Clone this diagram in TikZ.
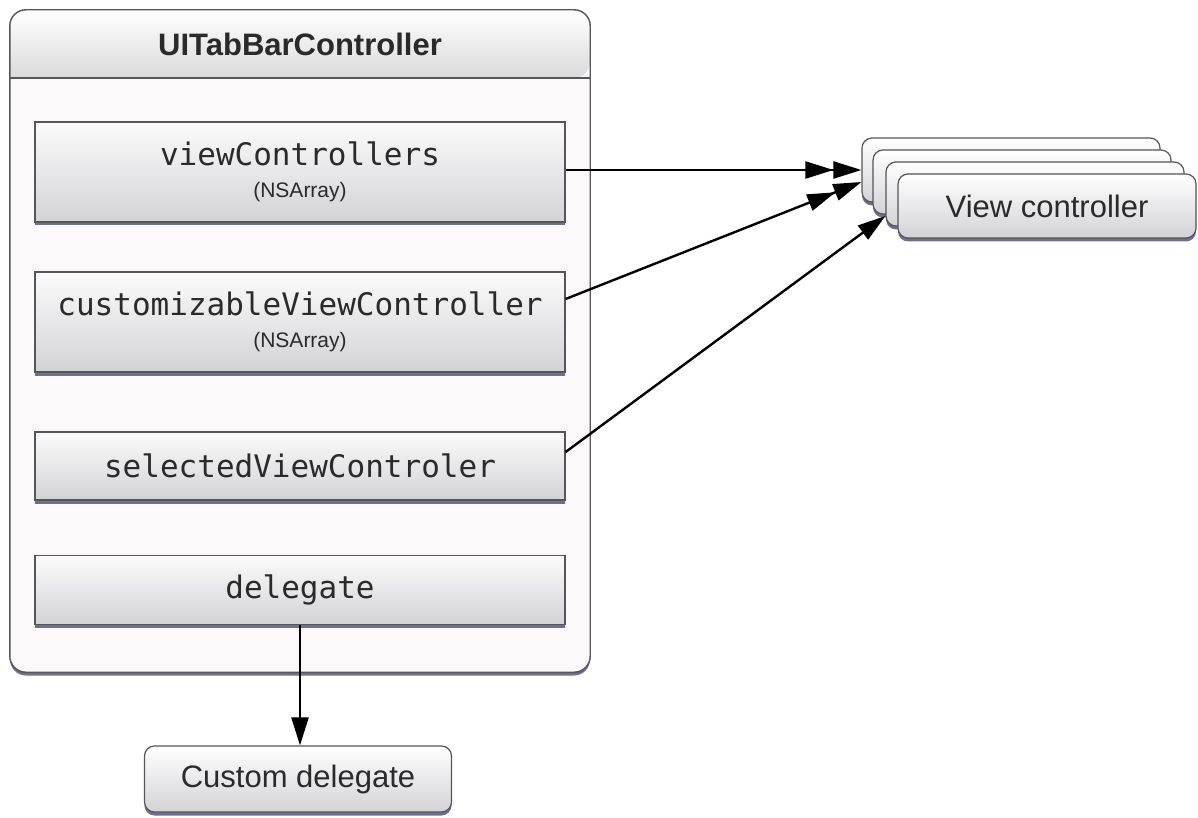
\documentclass[tikz,border=0pt]{standalone}
\usepackage{fontspec}
\setmainfont{Liberation Sans}
\setmonofont{DejaVu Sans Mono}
\usetikzlibrary{arrows.meta,shadows}

\definecolor{edge}{HTML}{55555A}
\definecolor{shadowc}{HTML}{70708A}
\definecolor{bodyfill}{HTML}{FCF9FA}
\definecolor{shadetop}{HTML}{FBFBFB}
\definecolor{shadebot}{HTML}{D3D3D7}
\definecolor{headbot}{HTML}{DADADA}
\definecolor{ink}{HTML}{2A2A2A}

\tikzset{
  bottomshadow/.style={drop shadow={shadow xshift=0pt, shadow yshift=-3.5pt, fill=shadowc, opacity=1}},
  field/.style={draw=edge, line width=1.2pt, top color=shadetop, bottom color=shadebot,
    minimum width=530pt, inner sep=0pt, align=center, bottomshadow, text=ink,
    font=\fontsize{31}{32}\selectfont},
  monotext/.style={font=\ttfamily\fontsize{31}{34}\selectfont},
  card/.style={draw=edge, line width=1.2pt, rounded corners=10pt, top color=white,
    bottom color=shadebot, minimum width=298pt, minimum height=64pt, bottomshadow,
    text=ink, font=\fontsize{31}{34}\selectfont},
  link/.style={line width=2.4pt, -{Triangle[length=28pt,width=17pt]}},
  multilink/.style={line width=2.4pt,
    -{Triangle[length=28pt,width=17pt]Triangle[length=28pt,width=17pt]}},
}

\begin{document}
\begin{tikzpicture}[x=1pt,y=-1pt]
\useasboundingbox (0,0) rectangle (1198,818);

% container of the tab bar controller
\node[fill=bodyfill, rounded corners=16pt, minimum width=580pt, minimum height=662pt,
  bottomshadow] (tbc) at (300,341) {};
\shade[top color=white, bottom color=headbot]
  (10,78) [rounded corners=16pt] |- (300,10) -| (590,78) [sharp corners] -- cycle;
\coordinate (hdl) at (10,78);
\coordinate (hdr) at (590,78);
\draw[edge, line width=1.2pt] (hdl) -- (hdr);
\draw[edge, line width=1.4pt, rounded corners=16pt] (tbc.north west) rectangle (tbc.south east);
\node[text=ink, font=\bfseries\fontsize{31}{34}\selectfont] (tbctitle) at (300,44) {UITabBarController};

% properties
\node[field, minimum height=100pt] (vcs) at (300,172)
  {\ttfamily viewControllers\\{\fontsize{21}{24}\selectfont (NSArray)}};
\node[field, minimum height=100pt] (cvcs) at (300,322)
  {\ttfamily customizableViewController\\{\fontsize{21}{24}\selectfont (NSArray)}};
\node[field, minimum height=68pt, monotext] (svc) at (300,466) {selectedViewControler};
\node[field, minimum height=69pt, monotext] (dlg) at (300,590) {delegate};

% stack of view controllers
\node[card] (vc1) at (1011,170) {};
\node[card] (vc2) at (1022,182) {};
\node[card] (vc3) at (1035,194) {};
\node[card] (vc)  at (1047,206) {View controller};

% delegate object
\node[card, minimum width=307pt, minimum height=66pt] (cd) at (298,779) {Custom delegate};

% references
\draw[multilink] ([yshift=2pt]vcs.east) -- (vc1.west);
\draw[multilink] ([yshift=23pt]cvcs.east) -- ([yshift=-12pt]vc1.west);
\draw[link] ([yshift=14pt]svc.east) -- ([yshift=-22pt]vc3.west);
\draw[link] (dlg.south) -- (dlg.south |- cd.north);
\end{tikzpicture}
\end{document}
